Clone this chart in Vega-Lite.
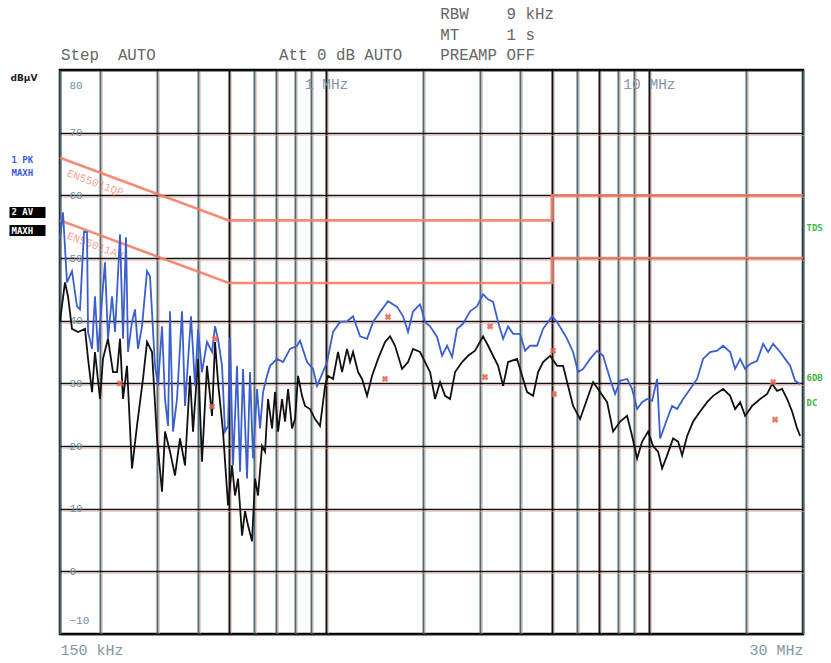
{
  "$schema": "https://vega.github.io/schema/vega-lite/v6.json",
  "width": 743,
  "height": 564,
  "autosize": {"type": "none"},
  "padding": {"left": 60, "top": 70, "right": 28, "bottom": 29},
  "background": "white",
  "title": {
    "text": [
      "\u200b\u00a0\u00a0\u00a0\u00a0\u00a0\u00a0\u00a0\u00a0\u00a0\u00a0\u00a0\u00a0\u00a0\u00a0\u00a0\u00a0\u00a0\u00a0\u00a0\u00a0\u00a0\u00a0\u00a0\u00a0\u00a0\u00a0\u00a0\u00a0\u00a0\u00a0\u00a0\u00a0\u00a0\u00a0\u00a0\u00a0\u00a0\u00a0\u00a0\u00a0RBW\u00a0\u00a0\u00a0\u00a09\u00a0kHz",
      "\u200b\u00a0\u00a0\u00a0\u00a0\u00a0\u00a0\u00a0\u00a0\u00a0\u00a0\u00a0\u00a0\u00a0\u00a0\u00a0\u00a0\u00a0\u00a0\u00a0\u00a0\u00a0\u00a0\u00a0\u00a0\u00a0\u00a0\u00a0\u00a0\u00a0\u00a0\u00a0\u00a0\u00a0\u00a0\u00a0\u00a0\u00a0\u00a0\u00a0\u00a0MT\u00a0\u00a0\u00a0\u00a0\u00a01\u00a0s",
      "Step\u00a0\u00a0AUTO\u00a0\u00a0\u00a0\u00a0\u00a0\u00a0\u00a0\u00a0\u00a0\u00a0\u00a0\u00a0\u00a0Att\u00a00\u00a0dB\u00a0AUTO\u00a0\u00a0\u00a0\u00a0PREAMP\u00a0OFF"
    ],
    "anchor": "start",
    "frame": "group",
    "font": "Liberation Mono",
    "fontSize": 15.8,
    "fontWeight": "normal",
    "color": "#666666",
    "lineHeight": 20.5,
    "offset": 6,
    "dx": 1
  },
  "config": {
    "view": {"stroke": "#000000", "strokeWidth": 2.5},
    "font": "Liberation Mono"
  },
  "datasets": {
    "limits": [
      {"limit": "EN55011QP", "i": 0, "f": 0.15, "db": 66},
      {"limit": "EN55011QP", "i": 1, "f": 0.5, "db": 56},
      {"limit": "EN55011QP", "i": 2, "f": 5, "db": 56},
      {"limit": "EN55011QP", "i": 3, "f": 5, "db": 60},
      {"limit": "EN55011QP", "i": 4, "f": 30, "db": 60},
      {"limit": "EN55011AV", "i": 0, "f": 0.15, "db": 56},
      {"limit": "EN55011AV", "i": 1, "f": 0.5, "db": 46},
      {"limit": "EN55011AV", "i": 2, "f": 5, "db": 46},
      {"limit": "EN55011AV", "i": 3, "f": 5, "db": 50},
      {"limit": "EN55011AV", "i": 4, "f": 30, "db": 50}
    ],
    "pk": [
      {"f": 0.150, "db": 53.0}, {"f": 0.1532, "db": 57.3}, {"f": 0.1577, "db": 46.1}, {"f": 0.1634, "db": 47.9},
      {"f": 0.1693, "db": 42.3}, {"f": 0.1730, "db": 41.8}, {"f": 0.1780, "db": 54.2}, {"f": 0.1819, "db": 54.1},
      {"f": 0.1832, "db": 38.2}, {"f": 0.1885, "db": 35.5}, {"f": 0.1925, "db": 43.9}, {"f": 0.1967, "db": 35.0},
      {"f": 0.2024, "db": 43.4}, {"f": 0.2067, "db": 49.3}, {"f": 0.2112, "db": 37.1}, {"f": 0.2174, "db": 43.9},
      {"f": 0.2221, "db": 38.2}, {"f": 0.2301, "db": 53.8}, {"f": 0.2351, "db": 37.1}, {"f": 0.2402, "db": 53.3},
      {"f": 0.2436, "db": 35.0}, {"f": 0.2506, "db": 39.8}, {"f": 0.2561, "db": 41.8}, {"f": 0.2616, "db": 35.5},
      {"f": 0.2692, "db": 39.1}, {"f": 0.2790, "db": 47.9}, {"f": 0.2850, "db": 47.1}, {"f": 0.2953, "db": 32.8},
      {"f": 0.3017, "db": 29.6}, {"f": 0.3105, "db": 39.1}, {"f": 0.3172, "db": 27.5}, {"f": 0.3241, "db": 23.2},
      {"f": 0.3287, "db": 41.5}, {"f": 0.3358, "db": 22.3}, {"f": 0.3455, "db": 27.5}, {"f": 0.3581, "db": 41.5},
      {"f": 0.3658, "db": 26.4}, {"f": 0.3818, "db": 40.7}, {"f": 0.3929, "db": 29.6}, {"f": 0.4014, "db": 38.7},
      {"f": 0.4129, "db": 31.8}, {"f": 0.4279, "db": 36.6}, {"f": 0.4435, "db": 35.0}, {"f": 0.4531, "db": 39.1},
      {"f": 0.4629, "db": 37.1}, {"f": 0.4763, "db": 32.8}, {"f": 0.4866, "db": 22.3}, {"f": 0.4972, "db": 23.2},
      {"f": 0.5043, "db": 37.4}, {"f": 0.5152, "db": 16.9}, {"f": 0.5301, "db": 32.8}, {"f": 0.5416, "db": 15.9},
      {"f": 0.5533, "db": 32.3}, {"f": 0.5693, "db": 14.8}, {"f": 0.5816, "db": 31.8}, {"f": 0.5942, "db": 18.0},
      {"f": 0.6114, "db": 29.1}, {"f": 0.6246, "db": 22.8}, {"f": 0.6381, "db": 28.6}, {"f": 0.6566, "db": 31.2},
      {"f": 0.6708, "db": 32.8}, {"f": 0.7051, "db": 33.9}, {"f": 0.7360, "db": 33.4}, {"f": 0.7736, "db": 35.5},
      {"f": 0.8132, "db": 36.0}, {"f": 0.8308, "db": 36.8}, {"f": 0.8733, "db": 33.4}, {"f": 0.9115, "db": 32.3},
      {"f": 0.9379, "db": 29.6}, {"f": 0.9582, "db": 30.7}, {"f": 1.0072, "db": 33.4}, {"f": 1.0512, "db": 38.2},
      {"f": 1.1051, "db": 39.8}, {"f": 1.1616, "db": 39.9}, {"f": 1.2124, "db": 40.7}, {"f": 1.2746, "db": 37.5},
      {"f": 1.3398, "db": 37.1}, {"f": 1.3984, "db": 39.8}, {"f": 1.4700, "db": 41.4}, {"f": 1.5563, "db": 43.1},
      {"f": 1.6595, "db": 42.2}, {"f": 1.7319, "db": 40.7}, {"f": 1.7948, "db": 38.2}, {"f": 1.8600, "db": 41.5},
      {"f": 1.9553, "db": 42.6}, {"f": 2.0262, "db": 39.8}, {"f": 2.0998, "db": 39.1}, {"f": 2.2072, "db": 37.4},
      {"f": 2.2875, "db": 34.4}, {"f": 2.3705, "db": 36.0}, {"f": 2.4566, "db": 34.2}, {"f": 2.5457, "db": 38.7},
      {"f": 2.6570, "db": 39.5}, {"f": 2.7931, "db": 41.5}, {"f": 2.9360, "db": 42.3}, {"f": 3.0644, "db": 44.2},
      {"f": 3.1757, "db": 43.4}, {"f": 3.2910, "db": 43.0}, {"f": 3.4105, "db": 39.8}, {"f": 3.5343, "db": 37.1},
      {"f": 3.6626, "db": 39.1}, {"f": 3.7955, "db": 37.9}, {"f": 3.9899, "db": 37.9}, {"f": 4.1347, "db": 35.2},
      {"f": 4.2849, "db": 36.0}, {"f": 4.5042, "db": 36.0}, {"f": 4.7010, "db": 38.7}, {"f": 5.0129, "db": 40.7},
      {"f": 5.1948, "db": 39.8}, {"f": 5.4219, "db": 38.2}, {"f": 5.5788, "db": 37.1}, {"f": 5.8228, "db": 35.0},
      {"f": 6.0342, "db": 31.8}, {"f": 6.2532, "db": 32.3}, {"f": 6.5735, "db": 33.9}, {"f": 6.9099, "db": 35.2},
      {"f": 7.2120, "db": 34.4}, {"f": 7.5813, "db": 30.7}, {"f": 7.8563, "db": 28.3}, {"f": 8.1418, "db": 30.4},
      {"f": 8.5584, "db": 30.7}, {"f": 8.8693, "db": 29.1}, {"f": 9.1911, "db": 25.9}, {"f": 9.5249, "db": 27.0},
      {"f": 9.8706, "db": 27.5}, {"f": 10.229, "db": 27.2}, {"f": 10.600, "db": 30.7}, {"f": 10.830, "db": 21.2},
      {"f": 11.384, "db": 24.3}, {"f": 11.797, "db": 26.4}, {"f": 12.225, "db": 25.9}, {"f": 12.760, "db": 27.5},
      {"f": 13.414, "db": 29.1}, {"f": 14.100, "db": 30.7}, {"f": 14.716, "db": 33.9}, {"f": 15.470, "db": 35.0},
      {"f": 16.262, "db": 35.2}, {"f": 16.973, "db": 36.0}, {"f": 17.842, "db": 35.0}, {"f": 18.489, "db": 32.3},
      {"f": 19.161, "db": 33.9}, {"f": 19.856, "db": 32.3}, {"f": 20.578, "db": 33.1}, {"f": 21.631, "db": 33.6},
      {"f": 22.577, "db": 36.3}, {"f": 23.396, "db": 35.0}, {"f": 24.245, "db": 36.3}, {"f": 25.487, "db": 35.0},
      {"f": 26.412, "db": 33.9}, {"f": 27.371, "db": 32.8}, {"f": 28.364, "db": 30.4}, {"f": 29.394, "db": 29.9}
    ],
    "av": [
      {"f": 0.150, "db": 39.9}, {"f": 0.1554, "db": 46.1}, {"f": 0.1588, "db": 43.9}, {"f": 0.1634, "db": 38.7},
      {"f": 0.1706, "db": 38.2}, {"f": 0.1793, "db": 38.7}, {"f": 0.1832, "db": 33.9}, {"f": 0.1885, "db": 28.6},
      {"f": 0.1925, "db": 35.0}, {"f": 0.1995, "db": 27.5}, {"f": 0.2038, "db": 33.9}, {"f": 0.2112, "db": 37.1},
      {"f": 0.2189, "db": 31.8}, {"f": 0.2253, "db": 31.8}, {"f": 0.2301, "db": 37.1}, {"f": 0.2351, "db": 27.5},
      {"f": 0.2419, "db": 32.8}, {"f": 0.2506, "db": 16.4}, {"f": 0.2597, "db": 23.2}, {"f": 0.2711, "db": 30.7},
      {"f": 0.2790, "db": 36.6}, {"f": 0.2891, "db": 35.0}, {"f": 0.2996, "db": 21.2}, {"f": 0.3105, "db": 12.7},
      {"f": 0.3172, "db": 22.3}, {"f": 0.3287, "db": 19.1}, {"f": 0.3406, "db": 15.3}, {"f": 0.3530, "db": 21.2},
      {"f": 0.3658, "db": 16.9}, {"f": 0.3791, "db": 31.2}, {"f": 0.3873, "db": 22.3}, {"f": 0.4014, "db": 33.9},
      {"f": 0.4129, "db": 17.5}, {"f": 0.4279, "db": 32.8}, {"f": 0.4435, "db": 24.8}, {"f": 0.4531, "db": 36.6},
      {"f": 0.4629, "db": 30.2}, {"f": 0.4797, "db": 22.3}, {"f": 0.4972, "db": 10.5}, {"f": 0.5115, "db": 16.9},
      {"f": 0.5226, "db": 12.1}, {"f": 0.5339, "db": 14.8}, {"f": 0.5494, "db": 5.7}, {"f": 0.5612, "db": 9.6},
      {"f": 0.5734, "db": 7.3}, {"f": 0.5900, "db": 4.8}, {"f": 0.6027, "db": 14.8}, {"f": 0.6157, "db": 12.1},
      {"f": 0.6336, "db": 20.0}, {"f": 0.6473, "db": 19.1}, {"f": 0.6613, "db": 27.5}, {"f": 0.6804, "db": 22.8},
      {"f": 0.6951, "db": 28.6}, {"f": 0.7102, "db": 22.3}, {"f": 0.7307, "db": 27.5}, {"f": 0.7465, "db": 23.9},
      {"f": 0.7627, "db": 29.1}, {"f": 0.7847, "db": 22.8}, {"f": 0.8017, "db": 24.3}, {"f": 0.8190, "db": 31.2},
      {"f": 0.8427, "db": 28.0}, {"f": 0.8609, "db": 26.4}, {"f": 0.8922, "db": 25.9}, {"f": 0.9246, "db": 24.3},
      {"f": 0.9582, "db": 23.2}, {"f": 0.9930, "db": 29.6}, {"f": 1.0144, "db": 31.2}, {"f": 1.0512, "db": 30.7},
      {"f": 1.0894, "db": 35.0}, {"f": 1.1210, "db": 31.8}, {"f": 1.1616, "db": 35.5}, {"f": 1.1868, "db": 33.4},
      {"f": 1.2124, "db": 35.0}, {"f": 1.2565, "db": 31.8}, {"f": 1.2929, "db": 30.7}, {"f": 1.3398, "db": 28.0},
      {"f": 1.3885, "db": 31.2}, {"f": 1.4491, "db": 33.9}, {"f": 1.5233, "db": 36.6}, {"f": 1.5787, "db": 37.5},
      {"f": 1.6360, "db": 36.0}, {"f": 1.7196, "db": 32.3}, {"f": 1.7948, "db": 33.4}, {"f": 1.8600, "db": 35.5},
      {"f": 1.9553, "db": 35.0}, {"f": 2.0262, "db": 33.4}, {"f": 2.0998, "db": 31.8}, {"f": 2.1760, "db": 27.5},
      {"f": 2.2551, "db": 30.2}, {"f": 2.3369, "db": 28.0}, {"f": 2.4218, "db": 27.5}, {"f": 2.5097, "db": 31.8},
      {"f": 2.6381, "db": 33.4}, {"f": 2.7535, "db": 34.4}, {"f": 2.8944, "db": 35.2}, {"f": 3.0644, "db": 37.5},
      {"f": 3.1757, "db": 36.0}, {"f": 3.2910, "db": 34.4}, {"f": 3.4105, "db": 32.8}, {"f": 3.5343, "db": 29.6},
      {"f": 3.6626, "db": 33.4}, {"f": 3.9053, "db": 33.9}, {"f": 4.0472, "db": 31.2}, {"f": 4.1941, "db": 28.6},
      {"f": 4.3775, "db": 28.0}, {"f": 4.5364, "db": 31.8}, {"f": 4.7010, "db": 33.4}, {"f": 4.9419, "db": 34.4},
      {"f": 5.1948, "db": 32.8}, {"f": 5.4219, "db": 32.8}, {"f": 5.5788, "db": 30.2}, {"f": 5.8228, "db": 26.4},
      {"f": 6.1209, "db": 24.3}, {"f": 6.4341, "db": 27.5}, {"f": 6.7156, "db": 30.2}, {"f": 7.0594, "db": 28.6},
      {"f": 7.4206, "db": 27.0}, {"f": 7.7451, "db": 22.3}, {"f": 8.1418, "db": 23.9}, {"f": 8.5584, "db": 24.8},
      {"f": 8.8693, "db": 21.6}, {"f": 9.1911, "db": 18.0}, {"f": 9.5249, "db": 20.7}, {"f": 9.9413, "db": 22.3},
      {"f": 10.302, "db": 20.0}, {"f": 10.676, "db": 19.1}, {"f": 10.986, "db": 16.4}, {"f": 11.384, "db": 18.5},
      {"f": 11.881, "db": 21.2}, {"f": 12.313, "db": 20.7}, {"f": 12.669, "db": 18.5}, {"f": 13.129, "db": 21.6},
      {"f": 13.704, "db": 23.9}, {"f": 14.405, "db": 25.5}, {"f": 15.142, "db": 27.0}, {"f": 15.804, "db": 28.0},
      {"f": 16.973, "db": 29.1}, {"f": 17.842, "db": 28.0}, {"f": 18.489, "db": 25.9}, {"f": 19.161, "db": 27.0},
      {"f": 19.856, "db": 24.8}, {"f": 20.874, "db": 26.4}, {"f": 22.099, "db": 27.5}, {"f": 23.230, "db": 28.3},
      {"f": 24.073, "db": 29.9}, {"f": 24.946, "db": 28.8}, {"f": 25.853, "db": 29.1}, {"f": 26.791, "db": 27.5},
      {"f": 27.764, "db": 25.5}, {"f": 28.772, "db": 22.8}, {"f": 29.394, "db": 21.6}
    ],
    "markers": [
      {"f": 0.2301, "db": 30.0}, {"f": 0.4531, "db": 37.1}, {"f": 0.4435, "db": 26.3},
      {"f": 1.556, "db": 40.6}, {"f": 1.523, "db": 30.7}, {"f": 3.221, "db": 39.1},
      {"f": 3.108, "db": 31.0}, {"f": 5.049, "db": 35.2}, {"f": 5.085, "db": 28.3},
      {"f": 24.245, "db": 30.2}, {"f": 24.593, "db": 24.2}
    ]
  },
  "resolve": {
    "scale": {"x": "shared", "y": "shared"},
    "axis": {"x": "independent", "y": "independent"}
  },
  "layer": [
    {
      "data": {"name": "limits"},
      "mark": {"type": "line", "color": "#f47e66", "strokeWidth": 2.6, "opacity": 0.9},
      "encoding": {
        "x": {
          "field": "f", "type": "quantitative",
          "scale": {"type": "log", "domain": [0.15, 30], "nice": false},
          "axis": {
            "orient": "bottom",
            "values": [0.15, 0.2, 0.3, 0.4, 0.5, 0.6, 0.7, 0.8, 0.9, 1, 2, 3, 4, 5, 6, 7, 8, 9, 10, 20, 30],
            "labelExpr": "datum.value == 0.15 ? '150 kHz' : datum.value == 30 ? '30 MHz' : ''",
            "labelFlush": true,
            "labelOverlap": false,
            "labelPadding": 8,
            "labelFont": "Liberation Mono",
            "labelFontSize": 15,
            "labelColor": "#7f97a6",
            "ticks": false,
            "tickSize": 0,
            "domain": false,
            "grid": true,
            "gridColor": {"condition": {"test": "datum.value == 0.5 || datum.value == 1 || datum.value == 5 || datum.value == 7 || datum.value == 10", "value": "#111111"}, "value": "#4d6b74"},
            "gridWidth": 2,
            "title": null
          }
        },
        "y": {
          "field": "db", "type": "quantitative",
          "scale": {"domain": [-10, 80], "nice": false, "zero": false},
          "axis": {
            "orient": "left",
            "values": [-10, 0, 10, 20, 30, 40, 50, 60, 70, 80],
            "grid": true,
            "gridColor": "#111111",
            "gridWidth": 1.5,
            "ticks": false,
            "tickSize": 0,
            "domain": false,
            "labelAlign": "left",
            "labelPadding": -9,
            "labelFlush": true,
            "labelFlushOffset": -9,
            "labelFont": "Liberation Mono",
            "labelFontSize": 11,
            "labelColor": "#6f8ea6",
            "title": "dBµV",
            "titleAngle": 0,
            "titleX": -50,
            "titleY": 7,
            "titleAlign": "left",
            "titleBaseline": "middle",
            "titleFont": "DejaVu Sans",
            "titleFontSize": 9,
            "titleFontWeight": "bold",
            "titleColor": "#222222"
          }
        },
        "detail": {"field": "limit"},
        "order": {"field": "i"}
      }
    },
    {
      "data": {"name": "limits"},
      "transform": [{"filter": "datum.i == 0"}],
      "mark": {"type": "text", "color": "#f47e66", "opacity": 0.7, "font": "Liberation Mono", "fontSize": 11, "align": "left", "baseline": "top", "angle": 20, "dx": 12, "dy": 6},
      "encoding": {
        "x": {
          "field": "f", "type": "quantitative",
          "axis": {
            "orient": "bottom",
            "values": [0.2, 0.3, 0.4, 0.5, 0.6, 0.7, 0.8, 0.9, 1, 2, 3, 4, 5, 6, 7, 8, 9, 10, 20],
            "labels": false, "ticks": false, "tickSize": 0, "domain": false,
            "grid": true, "gridColor": "#f4a189", "gridWidth": 1, "gridOpacity": 0.55,
            "translate": 2.5, "title": null
          }
        },
        "y": {
          "field": "db", "type": "quantitative",
          "axis": {
            "orient": "left",
            "values": [0, 10, 20, 30, 40, 50, 60, 70],
            "labels": false, "ticks": false, "tickSize": 0, "domain": false,
            "grid": true, "gridColor": "#f4a189", "gridWidth": 1, "gridOpacity": 0.55,
            "translate": 2.5, "title": null
          }
        },
        "text": {"field": "limit"}
      }
    },
    {
      "data": {"name": "av"},
      "mark": {"type": "line", "color": "#111111", "strokeWidth": 1.8},
      "encoding": {
        "x": {"field": "f", "type": "quantitative", "axis": null},
        "y": {
          "field": "db", "type": "quantitative",
          "axis": {
            "orient": "right",
            "values": [54.9, 31.0, 26.9],
            "labelExpr": "datum.value > 50 ? 'TDS' : datum.value > 29 ? '6DB' : 'DC'",
            "labelColor": "#44b544",
            "labelFont": "DejaVu Sans Mono",
            "labelFontWeight": "bold",
            "labelFontSize": 9,
            "labelAlign": "left",
            "labelPadding": 3,
            "labelOverlap": false,
            "ticks": false,
            "tickSize": 0,
            "domain": false,
            "grid": false,
            "title": null
          }
        }
      }
    },
    {
      "data": {"name": "pk"},
      "mark": {"type": "line", "color": "#3b5fcf", "strokeWidth": 1.8},
      "encoding": {
        "x": {
          "field": "f", "type": "quantitative",
          "axis": {
            "orient": "top",
            "values": [1, 10],
            "labelExpr": "datum.value + ' MHz'",
            "labelAlign": "center",
            "labelBaseline": "middle",
            "labelPadding": -14,
            "labelFont": "Liberation Mono",
            "labelFontSize": 14.5,
            "labelColor": "#7f97a6",
            "ticks": false,
            "tickSize": 0,
            "domain": false,
            "grid": false,
            "title": null
          }
        },
        "y": {
          "field": "db", "type": "quantitative",
          "axis": {
            "orient": "left",
            "offset": 15,
            "values": [65.7, 63.6, 57.4, 54.4],
            "labelExpr": "datum.value > 65 ? '1 PK' : datum.value > 60 ? 'MAXH' : datum.value > 56 ? '2 AV' : 'MAXH'",
            "labelColor": {"condition": {"test": "datum.value > 60", "value": "#3b5bd6"}, "value": "white"},
            "tickColor": {"condition": {"test": "datum.value > 60", "value": "transparent"}, "value": "black"},
            "ticks": true,
            "tickSize": 36,
            "tickWidth": 11,
            "labelAlign": "left",
            "labelBaseline": "middle",
            "labelPadding": -2,
            "labelFont": "DejaVu Sans Mono",
            "labelFontWeight": "bold",
            "labelFontSize": 9,
            "labelOverlap": false,
            "domain": false,
            "grid": false,
            "title": null
          }
        }
      }
    },
    {
      "data": {"name": "markers"},
      "mark": {"type": "point", "shape": "cross", "angle": 45, "size": 45, "filled": true, "color": "#e8654f", "opacity": 0.85},
      "encoding": {
        "x": {"field": "f", "type": "quantitative", "axis": null},
        "y": {"field": "db", "type": "quantitative", "axis": null}
      }
    }
  ]
}
